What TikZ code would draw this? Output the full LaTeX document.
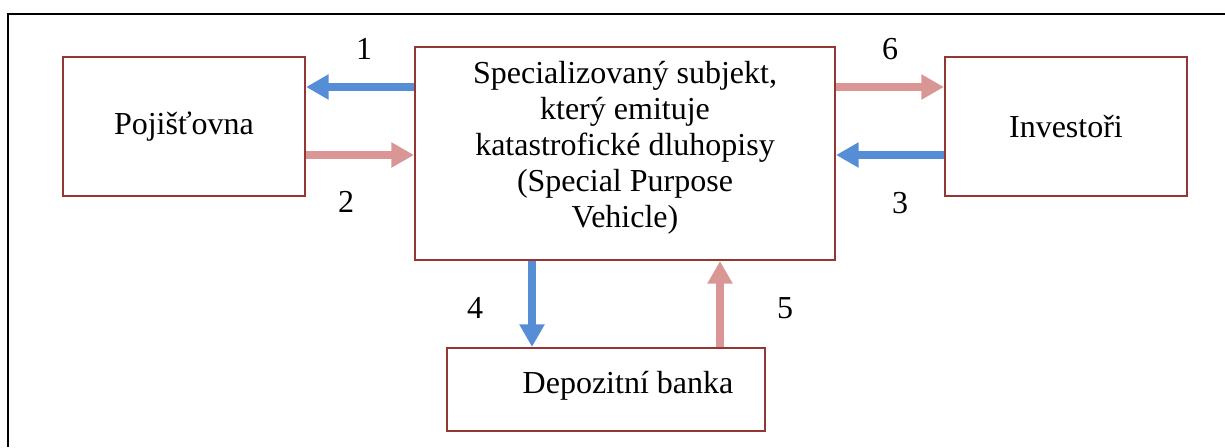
\documentclass[tikz,border=0pt]{standalone}
\usepackage{fontspec}
\setmainfont{Liberation Serif}
\usepackage{tikz}
\usetikzlibrary{positioning, arrows.meta, calc}
\definecolor{boxred}{RGB}{148,54,52}
\definecolor{flowblue}{RGB}{85,142,213}
\definecolor{flowpink}{RGB}{217,150,148}
\newcommand{\txtsize}{\fontsize{12pt}{13.5pt}\selectfont}

\begin{document}
\begin{tikzpicture}[
  x=0.375pt, y=-0.375pt,
  party/.style={draw=boxred, line width=0.8pt, align=center,
                inner sep=0pt, font=\txtsize},
  num/.style={font=\txtsize, inner sep=0pt},
  flow/.style={line width=3pt, -{Triangle[width=9pt, length=8.5pt]}},
  bluearr/.style={flow, flowblue},
  pinkarr/.style={flow, flowpink}
]
\useasboundingbox (0,0) rectangle (1225,447);
\draw[line width=1pt] (1225,14) -- (8,14) -- (8,447);

\node[party, minimum width=90.75pt, minimum height=52.125pt] (poj) at (184,126.5) {Pojišťovna};
\node[party, minimum width=157.5pt, minimum height=79.875pt] (spv) at (625,153.5) {};
\node[font=\txtsize, align=center, inner sep=0pt] (spvtext) at (625,147.5)
  {Specializovaný subjekt,\\který emituje\\katastrofické dluhopisy\\(Special Purpose\\Vehicle)};
\node[party, minimum width=90.75pt, minimum height=52.125pt] (inv) at (1066,126.5) {Investoři};
\node[party, minimum width=119.25pt, minimum height=31.125pt] (bank) at (606,389.5) {};
\node[font=\txtsize, inner sep=0pt] (banktext) at (628,386) {Depozitní banka};

\draw[bluearr] (spv.west |- 0,87) -- (poj.east |- 0,87);
\draw[pinkarr] (poj.east |- 0,155) -- (spv.west |- 0,155);
\draw[pinkarr] (spv.east |- 0,87) -- (inv.west |- 0,87);
\draw[bluearr] (inv.west |- 0,155) -- (spv.east |- 0,155);
\draw[bluearr] (spv.south -| 532,0) -- (bank.north -| 532,0);
\draw[pinkarr] (bank.north -| 720,0) -- (spv.south -| 720,0);

\node[num] (n1) at (364,49) {1};
\node[num] (n2) at (346,202) {2};
\node[num] (n3) at (900,203) {3};
\node[num] (n4) at (475,308) {4};
\node[num] (n5) at (785,308) {5};
\node[num] (n6) at (890,49) {6};
\end{tikzpicture}
\end{document}
